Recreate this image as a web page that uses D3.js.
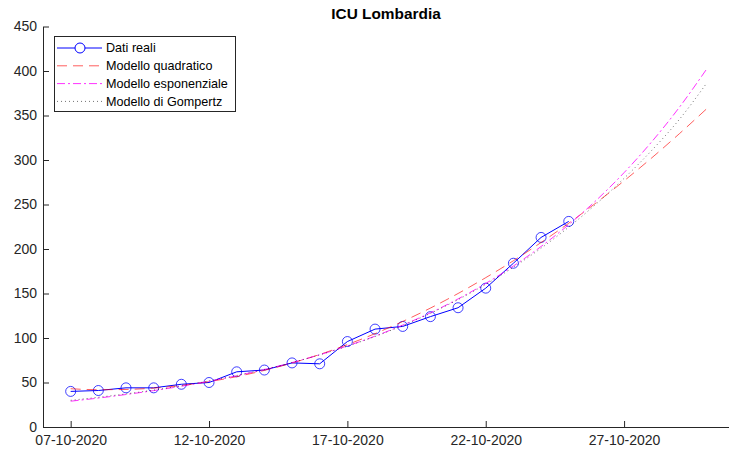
<!DOCTYPE html>
<html>
<head>
<meta charset="utf-8">
<script src="https://cdn.jsdelivr.net/npm/d3@7"></script>
<style>
  body { margin: 0; background: #fff; }
  svg { display: block; font-family: "Liberation Sans", Arial, sans-serif; }
  .tick text { fill: #262626; font-size: 14px; }
  .domain, .tick line { stroke: #262626; }
</style>
</head>
<body>
<div id="wrapper"></div>
<script>
// days from 07-10-2020 to 30-10-2020
const days = ["07-10-2020","08-10-2020","09-10-2020","10-10-2020","11-10-2020","12-10-2020",
  "13-10-2020","14-10-2020","15-10-2020","16-10-2020","17-10-2020","18-10-2020",
  "19-10-2020","20-10-2020","21-10-2020","22-10-2020","23-10-2020","24-10-2020",
  "25-10-2020","26-10-2020","27-10-2020","28-10-2020","29-10-2020","30-10-2020"]

// real ICU counts (07-10 .. 25-10)
const realValues = [40, 41, 44, 44, 48, 50, 62, 64, 72, 71, 96, 110, 113, 124, 134, 156, 184, 213, 231]

// fitted models (07-10 .. 30-10)
const quadValues = [43.0, 41.9, 42.2, 43.7, 46.7, 51.0, 56.6, 63.6, 71.9, 81.5, 92.6, 104.9,
  118.6, 133.6, 150.0, 167.8, 186.8, 207.3, 229.0, 252.1, 276.6, 302.4, 329.6, 358.0]
const expValues = [29.0, 32.5, 36.5, 40.9, 45.8, 51.4, 57.6, 64.6, 72.4, 81.2, 91.1, 102.1,
  114.5, 128.3, 143.9, 161.3, 180.9, 202.8, 227.4, 254.9, 285.8, 320.5, 359.3, 402.9]
const gompValues = [30.0, 33.4, 37.2, 41.5, 46.3, 51.7, 57.8, 64.7, 72.4, 81.1, 90.8, 101.7,
  114.0, 127.7, 143.1, 160.3, 179.5, 200.9, 224.6, 250.8, 279.4, 310.8, 345.7, 387.0]

const yTicks = [0, 50, 100, 150, 200, 250, 300, 350, 400, 450]
const xTicks = ["07-10-2020", "12-10-2020", "17-10-2020", "22-10-2020", "27-10-2020"]
const legendLabels = ["Dati reali", "Modello quadratico", "Modello esponenziale", "Modello di Gompertz"]

function drawChart() {
  const parse = d3.timeParse("%d-%m-%Y")
  const format = d3.timeFormat("%d-%m-%Y")

  let dimensions = {
    width: 729,
    height: 456,
    margin: { top: 26.5, right: 0, bottom: 29, left: 43 },
  }
  dimensions.boundedWidth = dimensions.width - dimensions.margin.left - dimensions.margin.right
  dimensions.boundedHeight = dimensions.height - dimensions.margin.top - dimensions.margin.bottom

  const svg = d3.select("#wrapper")
    .append("svg")
      .attr("width", dimensions.width)
      .attr("height", dimensions.height)

  const bounds = svg.append("g")
    .attr("transform", "translate(" + dimensions.margin.left + "," + dimensions.margin.top + ")")

  const x = d3.scaleTime()
    .domain([new Date(2020, 9, 6), new Date(2020, 9, 30, 19)])
    .range([0, dimensions.boundedWidth])
  const y = d3.scaleLinear()
    .domain([0, 450])
    .range([dimensions.boundedHeight, 0])

  // axes (ticks pointing inwards, like matlab)
  bounds.append("g")
    .attr("transform", "translate(0," + dimensions.boundedHeight + ")")
    .call(d3.axisBottom(x)
      .tickValues(xTicks.map(parse))
      .tickFormat(format)
      .tickSizeInner(-6).tickSizeOuter(0).tickPadding(8))
  bounds.append("g")
    .call(d3.axisLeft(y)
      .tickValues(yTicks)
      .tickSizeInner(-6).tickSizeOuter(0).tickPadding(6))
  bounds.selectAll(".domain").attr("stroke-width", 1)

  const line = d3.line()
    .x((d, i) => x(parse(days[i])))
    .y(d => y(d))

  // real data
  bounds.append("path")
    .datum(realValues)
    .attr("fill", "none")
    .attr("stroke", "#0000ff")
    .attr("stroke-width", 1)
    .attr("d", line)
  bounds.selectAll("circle.real")
    .data(realValues)
    .enter().append("circle")
      .attr("class", "real")
      .attr("cx", (d, i) => x(parse(days[i])))
      .attr("cy", d => y(d))
      .attr("r", 5)
      .attr("fill", "none")
      .attr("stroke", "#0000ff")
      .attr("stroke-opacity", 0.75)
      .attr("stroke-width", 1)

  const models = [
    { values: quadValues, color: "#ff0000", dash: "10,6", width: 0.8, opacity: 0.8 },
    { values: expValues,  color: "#ff00ff", dash: "8,3,2,3", width: 0.9, opacity: 0.9 },
    { values: gompValues, color: "#000000", dash: "1,3", width: 0.8, opacity: 0.7 },
  ]
  models.forEach(m => {
    bounds.append("path")
      .datum(m.values)
      .attr("fill", "none")
      .attr("stroke", m.color)
      .attr("stroke-width", m.width)
      .attr("stroke-opacity", m.opacity)
      .attr("stroke-dasharray", m.dash)
      .attr("d", line.curve(d3.curveMonotoneX))
  })

  // title
  svg.append("text")
    .attr("x", dimensions.margin.left + dimensions.boundedWidth / 2)
    .attr("y", 19)
    .attr("text-anchor", "middle")
    .attr("font-size", "15.4px")
    .attr("font-weight", "bold")
    .attr("fill", "#000")
    .text("ICU Lombardia")

  // legend
  const legend = svg.append("g")
  legend.append("rect")
    .attr("x", 54.5).attr("y", 36.5)
    .attr("width", 181).attr("height", 75)
    .attr("fill", "#fff")
    .attr("stroke", "#262626")
    .attr("stroke-width", 1)

  const styles = [
    { color: "#0000ff", dash: null, width: 1, opacity: 1 },
  ].concat(models)

  legendLabels.forEach((label, i) => {
    const ly = 48 + i * 17.8
    const s = styles[i]
    legend.append("line")
      .attr("x1", 57).attr("x2", 102)
      .attr("y1", ly).attr("y2", ly)
      .attr("stroke", s.color)
      .attr("stroke-width", s.width)
      .attr("stroke-opacity", s.opacity)
      .attr("stroke-dasharray", s.dash)
    if (i == 0) {
      legend.append("circle")
        .attr("cx", 80).attr("cy", ly).attr("r", 5)
        .attr("fill", "#fff").attr("stroke", "#0000ff").attr("stroke-width", 1)
    }
    legend.append("text")
      .attr("x", 106).attr("y", ly)
      .attr("dy", "0.35em")
      .attr("font-size", "12.6px")
      .attr("fill", "#000")
      .text(label)
  })
}

drawChart()
</script>
</body>
</html>
